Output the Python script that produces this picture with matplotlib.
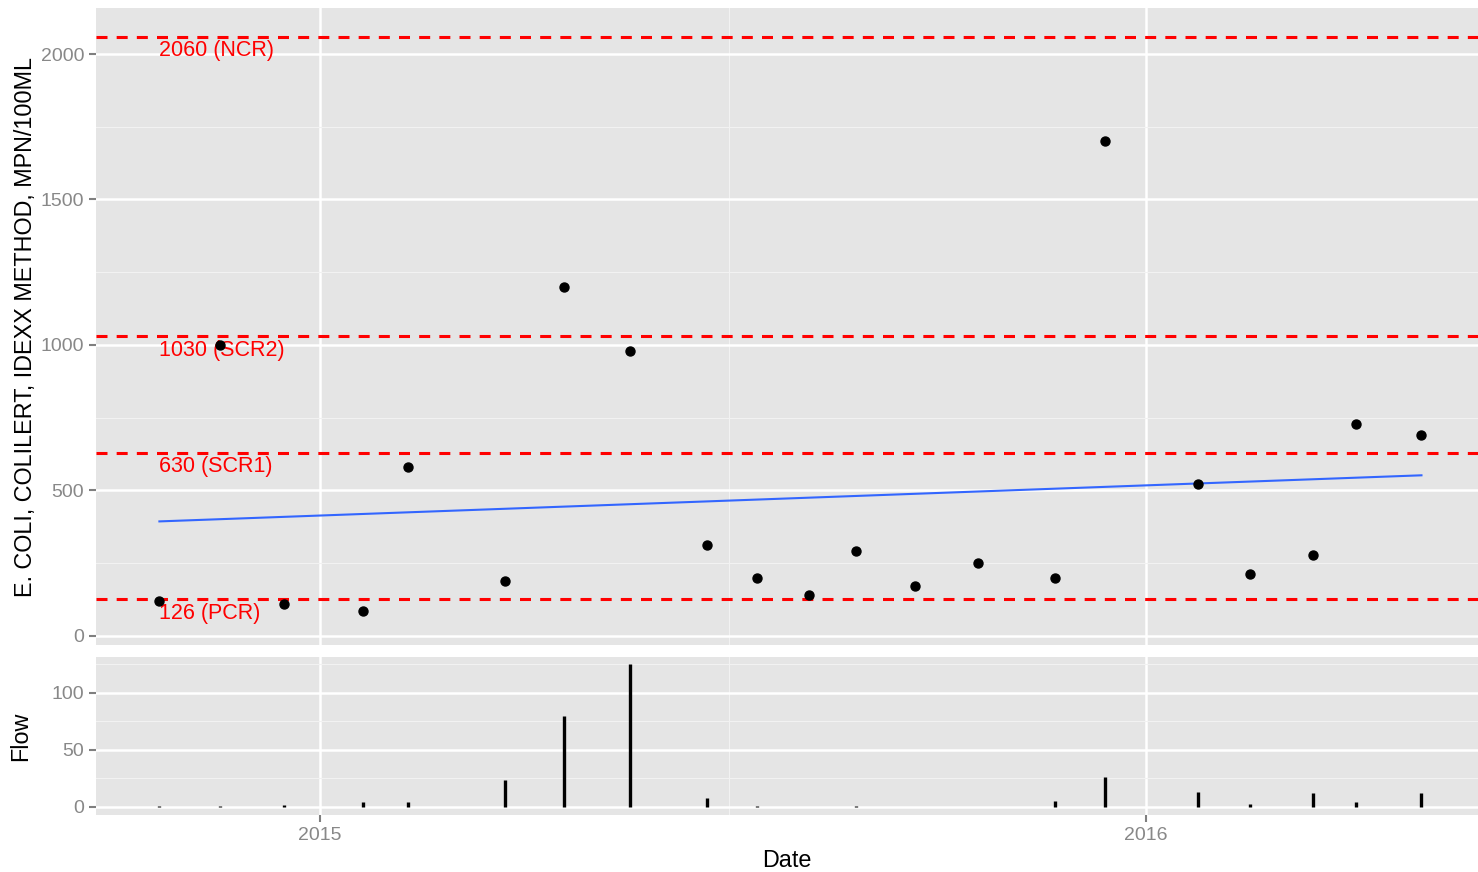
import matplotlib
matplotlib.use("Agg")
import matplotlib.pyplot as plt
import matplotlib.dates as mdates
import numpy as np
import pandas as pd

# sample dates and readings
dates = ["2014-10-22", "2014-11-18", "2014-12-16", "2015-01-20", "2015-02-09",
         "2015-03-24", "2015-04-19", "2015-05-18", "2015-06-21", "2015-07-13",
         "2015-08-05", "2015-08-26", "2015-09-21", "2015-10-19", "2015-11-22",
         "2015-12-14", "2016-01-24", "2016-02-16", "2016-03-15", "2016-04-03",
         "2016-05-02"]
ecoli = [120, 1000, 110, 86, 580, 189, 1200, 980, 313, 200,
         141, 292, 172, 251, 200, 1700, 522, 213, 278, 728, 690]
flow = [0.5, 1, 2, 4, 4, 24, 80, 125, 8, 1,
        0.4, 1, 0.4, 0, 5, 26, 13, 2.5, 12, 4.5, 12]

thresholds = [2060, 1030, 630, 126]
threshold_labels = ["2060 (NCR)", "1030 (SCR2)", "630 (SCR1)", "126 (PCR)"]

plt.rcParams['font.family'] = ['Liberation Sans', 'DejaVu Sans']

d = pd.to_datetime(dates)
xnum = mdates.date2num(d)

fig = plt.figure(figsize=(14.78, 8.72), dpi=100)
ax1 = fig.add_axes([0.065, 0.2603, 0.935, 0.7305])
ax2 = fig.add_axes([0.065, 0.0654, 0.935, 0.1812], sharex=ax1)

bg = "#E5E5E5"
tick_col = "#888888"
for ax in (ax1, ax2):
    ax.set_facecolor(bg)
    for s in ax.spines.values():
        s.set_visible(False)
    ax.grid(which="major", color="white", linewidth=1.8)
    ax.grid(which="minor", color="#F2F2F2", linewidth=0.8)
    ax.set_axisbelow(True)
    ax.tick_params(axis="both", which="major", colors="#7F7F7F", labelcolor=tick_col,
                   labelsize=14, length=5, width=1.5)
    ax.tick_params(axis="both", which="minor", length=0)

# top panel: E. coli readings
for v, lab in zip(thresholds, threshold_labels):
    ax1.axhline(v, color="red", linewidth=2.2, linestyle=(0, (3.6, 3.0)), zorder=2)
    ax1.text(xnum[0], v - 12, lab, color="red", fontsize=15.5, ha="left", va="top", zorder=3)

coef = np.polyfit(xnum, ecoli, 1)
xfit = np.array([xnum[0], xnum[-1]])
ax1.plot(xfit, np.polyval(coef, xfit), color="#3366FF", linewidth=1.5, zorder=3)
ax1.scatter(xnum, ecoli, s=42, color="black", zorder=4)

ax1.set_ylim(-31, 2158)
ax1.set_yticks([0, 500, 1000, 1500, 2000])
ax1.set_yticks([250, 750, 1250, 1750], minor=True)
ax1.set_ylabel("E. COLI, COLILERT, IDEXX METHOD, MPN/100ML", fontsize=16.8, labelpad=3)
ax1.tick_params(axis="x", which="both", length=0, labelbottom=False)

# bottom panel: flow
ax2.vlines(xnum, 0, flow, color="black", linewidth=2.4, zorder=3)
ax2.set_ylim(-7, 131.6)
ax2.set_yticks([0, 50, 100])
ax2.set_yticks([25, 75, 125], minor=True)
ax2.set_ylabel("Flow", fontsize=16.8, labelpad=14)
ax2.set_xlabel("Date", fontsize=16.8, labelpad=4)

ax2.set_xlim(mdates.date2num(pd.Timestamp("2014-09-24")),
             mdates.date2num(pd.Timestamp("2016-05-27")))
ax2.xaxis.set_major_locator(mdates.YearLocator())
ax2.xaxis.set_major_formatter(mdates.DateFormatter("%Y"))
ax2.xaxis.set_minor_locator(mdates.MonthLocator(bymonth=7))

fig.savefig("out.png", dpi=100)
